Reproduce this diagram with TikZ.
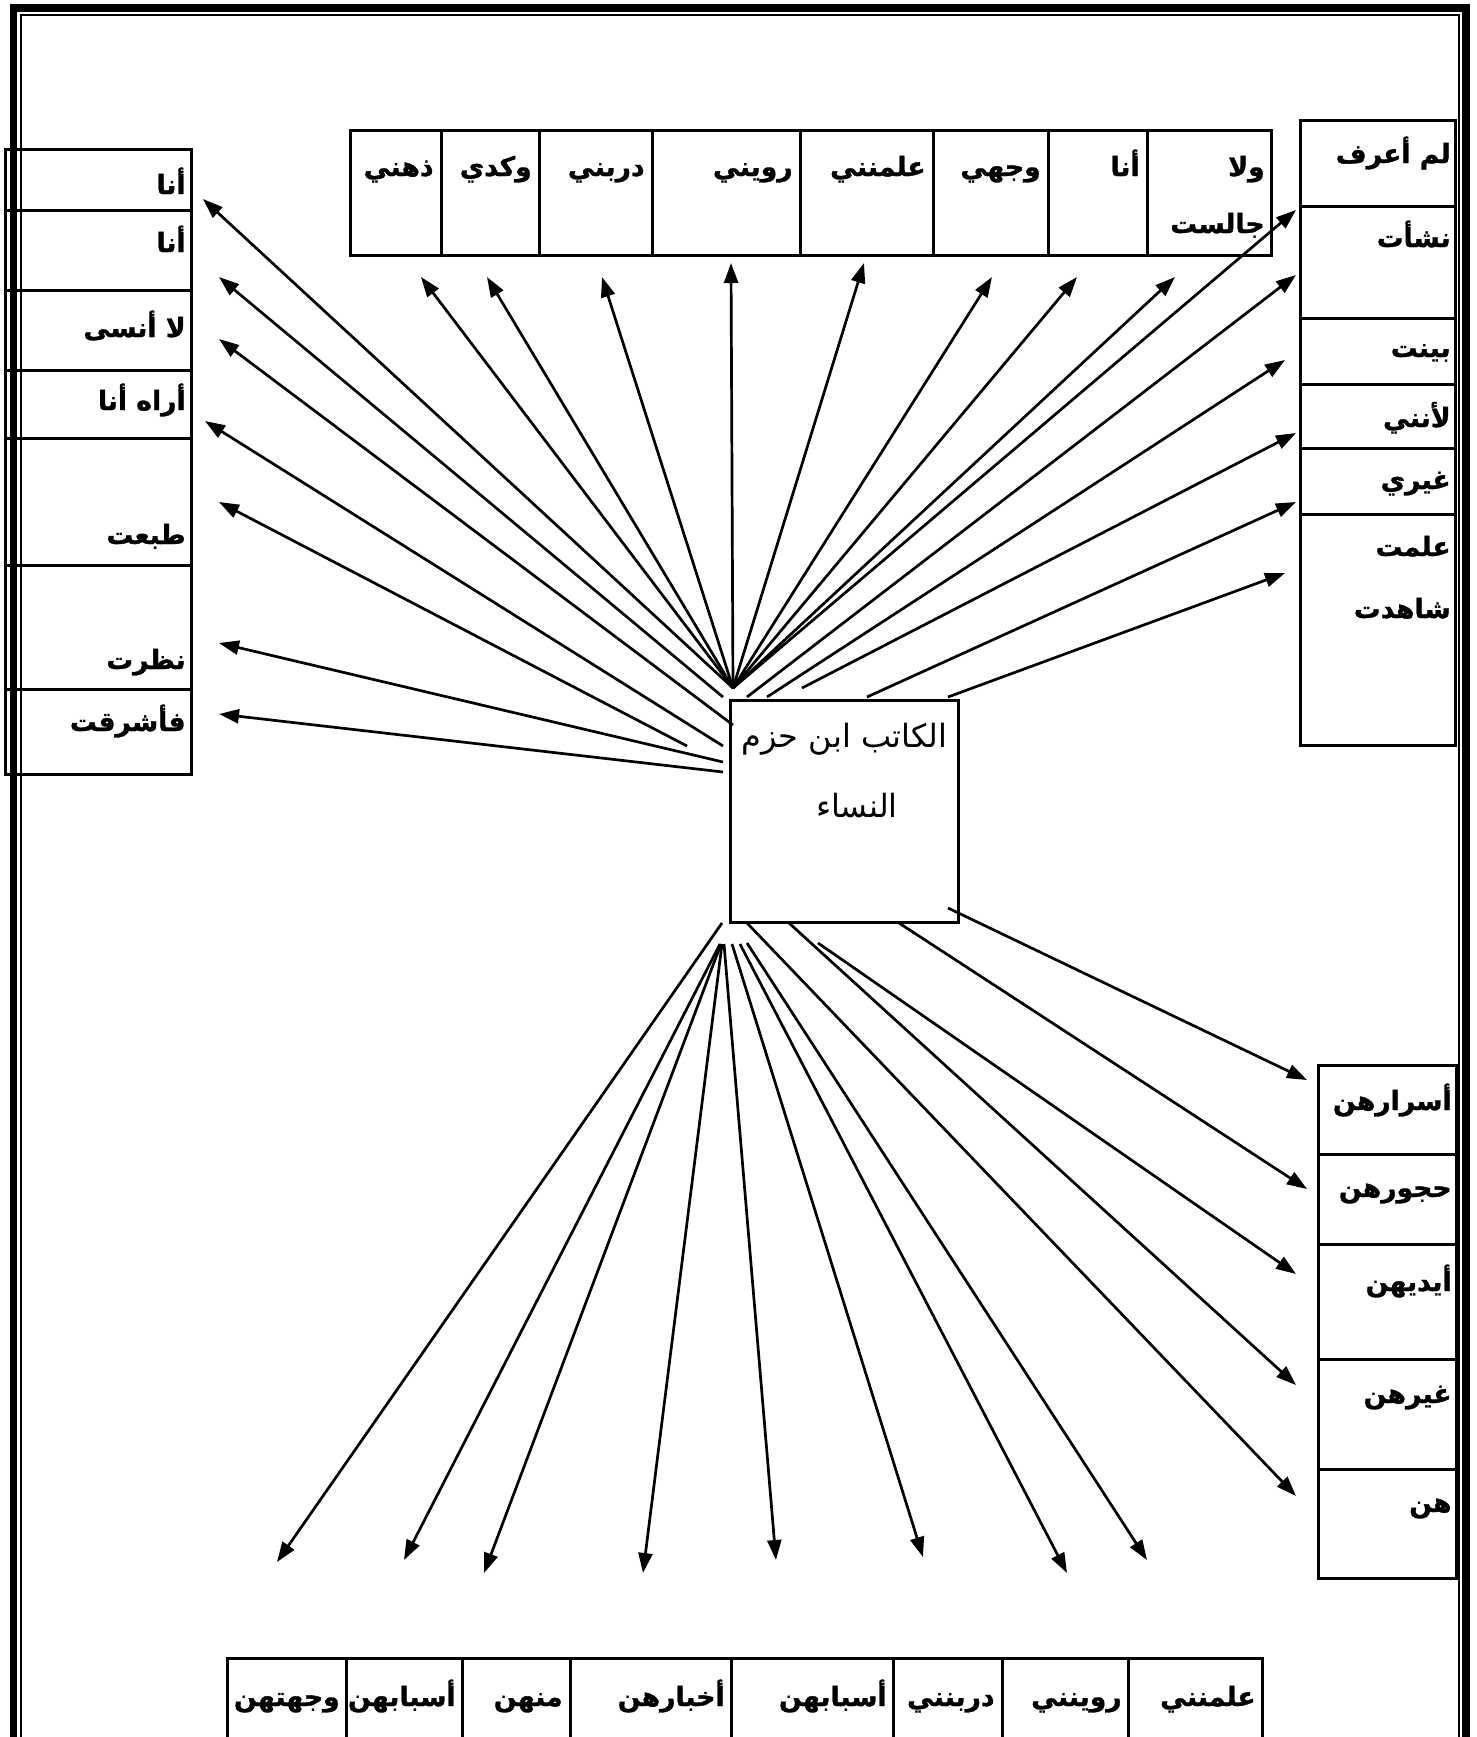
\documentclass[tikz,border=0pt]{standalone}
\usepackage{fontspec}
\newfontfamily\ar[Script=Arabic, BoldFeatures={FakeBold=1.2}]{DejaVu Sans}
\TeXXeTstate=1
\usetikzlibrary{arrows.meta}
\newcommand\AR[1]{\beginR #1\endR}
\tikzset{
  cell/.style={draw, line width=1.5pt},
  lbl/.style={font=\ar\bfseries\fontsize{13.3}{15}\selectfont, inner sep=0pt, anchor=base east},
  ttl/.style={font=\ar\fontsize{16}{18}\selectfont, inner sep=0pt},
  arr/.style={-{Triangle[length=10pt,width=7pt]}, line width=1.35pt},
}
\begin{document}
\begin{tikzpicture}[x=0.5pt,y=-0.5pt]
\useasboundingbox (0,0) rectangle (1477,1737);
% ---------- left column
\draw[cell] (5,149) rectangle (191,774);
\foreach \y in {210,290,370,438,565,689} \draw[cell] (5,\y) -- (191,\y);
\node[lbl] (lc1) at (186,194) {\AR{أنا}};
\node[lbl] (lc2) at (186,252) {\AR{أنا}};
\node[lbl] (lc3) at (186,337) {\AR{لا أنسى}};
\node[lbl] (lc4) at (186,410) {\AR{أراه أنا}};
\node[lbl] (lc5) at (186,544) {\AR{طبعت}};
\node[lbl] (lc6) at (186,669) {\AR{نظرت}};
\node[lbl] (lc7) at (186,731) {\AR{فأشرقت}};
% ---------- top table
\draw[cell] (350,130) rectangle (1271,255);
\foreach \x in {441,539,652,800,933,1048,1147} \draw[cell] (\x,130) -- (\x,255);
\node[lbl] (tt1) at (434,176) {\AR{ذهني}};
\node[lbl] (tt2) at (532,176) {\AR{وكدي}};
\node[lbl] (tt3) at (645,176) {\AR{دربني}};
\node[lbl] (tt4) at (793,176) {\AR{رويني}};
\node[lbl] (tt5) at (926,176) {\AR{علمنني}};
\node[lbl] (tt6) at (1041,176) {\AR{وجهي}};
\node[lbl] (tt7) at (1140,176) {\AR{أنا}};
\node[lbl] (tt8) at (1265,176) {\AR{ولا}};
\node[lbl] (tt9) at (1265,233) {\AR{جالست}};
% ---------- right upper column
\draw[cell] (1300,120) rectangle (1455,745);
\foreach \y in {206,318,384.5,448.7,514} \draw[cell] (1300,\y) -- (1455,\y);
\node[lbl] (rc1) at (1451,163) {\AR{لم أعرف}};
\node[lbl] (rc2) at (1451,247) {\AR{نشأت}};
\node[lbl] (rc3) at (1451,357) {\AR{بينت}};
\node[lbl] (rc4) at (1451,427) {\AR{لأنني}};
\node[lbl] (rc5) at (1451,489) {\AR{غيري}};
\node[lbl] (rc6) at (1451,556) {\AR{علمت}};
\node[lbl] (rc7) at (1451,618) {\AR{شاهدت}};
% ---------- right lower column
\draw[cell] (1318,1065) rectangle (1456,1578);
\foreach \y in {1154.6,1244,1359.5,1469} \draw[cell] (1318,\y) -- (1456,\y);
\node[lbl] (rb1) at (1452,1110) {\AR{أسرارهن}};
\node[lbl] (rb2) at (1452,1197) {\AR{حجورهن}};
\node[lbl] (rb3) at (1452,1291) {\AR{أيديهن}};
\node[lbl] (rb4) at (1452,1403) {\AR{غيرهن}};
\node[lbl] (rb5) at (1452,1512) {\AR{هن}};
% ---------- bottom table
\draw[cell] (227,1737) -- (227,1658) -- (1262,1658) -- (1262,1737);
\foreach \x in {346,462,570,731,893,1002,1128} \draw[cell] (\x,1658) -- (\x,1737);
\node[lbl] (bt1) at (340,1706) {\AR{وجهتهن}};
\node[lbl] (bt2) at (456,1706) {\AR{أسبابهن}};
\node[lbl] (bt3) at (563,1706) {\AR{منهن}};
\node[lbl] (bt4) at (725,1706) {\AR{أخبارهن}};
\node[lbl] (bt5) at (887,1706) {\AR{أسبابهن}};
\node[lbl] (bt6) at (995,1706) {\AR{دربنني}};
\node[lbl] (bt7) at (1122,1706) {\AR{روينني}};
\node[lbl] (bt8) at (1256,1706) {\AR{علمنني}};
% ---------- centre box
\node[cell, minimum width=114pt, minimum height=111pt, anchor=north west, inner sep=0pt] (main) at (729,699) {};
\node[ttl, anchor=base east] (m1) at (948,747) {\AR{الكاتب ابن حزم}};
\node[ttl, anchor=base] (m2) at (857,817) {\AR{النساء}};
% ---------- arrow coordinates
\coordinate (cv) at (733,688);
\coordinate (sL2) at (723,697);
\coordinate (sL3) at (733,725);
\coordinate (sL4) at (723,746);
\coordinate (sL5) at (687,746);
\coordinate (sL6) at (723,762);
\coordinate (sL7) at (723,772);
\coordinate (sR2) at (747,697);
\coordinate (sR3) at (767,697);
\coordinate (sR4) at (802,688);
\coordinate (sR5) at (867,697);
\coordinate (sR6) at (948,697);
\coordinate (sB1) at (948,908);
\coordinate (sB2) at (899,923);
\coordinate (sB3) at (818,943);
\coordinate (sB4) at (789,923);
\coordinate (sB5) at (747,923);
\coordinate (sB6) at (747,943);
\coordinate (sB7) at (740,944);
\coordinate (sB8) at (732,944);
\coordinate (sB9) at (724,944);
\coordinate (sB10) at (722,944);
\coordinate (sB11) at (721,944);
\coordinate (sB12) at (720,944);
\coordinate (sB13) at (722,923);
% ends
\coordinate (eL1) at (203,199);
\coordinate (eL2) at (219,277);
\coordinate (eL3) at (219,339);
\coordinate (eL4) at (205,421);
\coordinate (eL5) at (219,502);
\coordinate (eL6) at (219,643);
\coordinate (eL7) at (219,714);
\coordinate (eT1) at (421,277);
\coordinate (eT2) at (487,277);
\coordinate (eT3) at (602,277);
\coordinate (eT4) at (731,263);
\coordinate (eT5) at (864,263);
\coordinate (eT6) at (992,277);
\coordinate (eT7) at (1077,277);
\coordinate (eT8) at (1175,277);
\coordinate (eR1) at (1296,210);
\coordinate (eR2) at (1296,275);
\coordinate (eR3) at (1285,360);
\coordinate (eR4) at (1296,433);
\coordinate (eR5) at (1296,502);
\coordinate (eR6) at (1285,573);
\coordinate (eB1) at (1307,1080);
\coordinate (eB2) at (1307,1189);
\coordinate (eB3) at (1296,1274);
\coordinate (eB4) at (1296,1385);
\coordinate (eB5) at (1296,1496);
\coordinate (eB6) at (1147,1560);
\coordinate (eB7) at (1067,1573);
\coordinate (eB8) at (923,1557);
\coordinate (eB9) at (776,1560);
\coordinate (eB10) at (643,1573);
\coordinate (eB11) at (484,1573);
\coordinate (eB12) at (404,1560);
\coordinate (eB13) at (277,1562);
% ---------- arrows
\draw[arr] (cv) -- (eL1);
\draw[arr] (sL2) -- (eL2);
\draw[arr] (sL3) -- (eL3);
\draw[arr] (sL4) -- (eL4);
\draw[arr] (sL5) -- (eL5);
\draw[arr] (sL6) -- (eL6);
\draw[arr] (sL7) -- (eL7);
\foreach \i in {1,...,8} \draw[arr] (cv) -- (eT\i);
\draw[arr] (cv) -- (eR1);
\foreach \i in {2,...,6} \draw[arr] (sR\i) -- (eR\i);
\foreach \i in {1,...,13} \draw[arr] (sB\i) -- (eB\i);
% ---------- page border
\draw[line width=3.75pt] (13.5,1737) -- (13.5,8) -- (1466,8) -- (1466,1737);
\draw[line width=1pt] (20.5,1737) -- (20.5,15) -- (1458.5,15) -- (1458.5,1737);
\end{tikzpicture}
\end{document}
